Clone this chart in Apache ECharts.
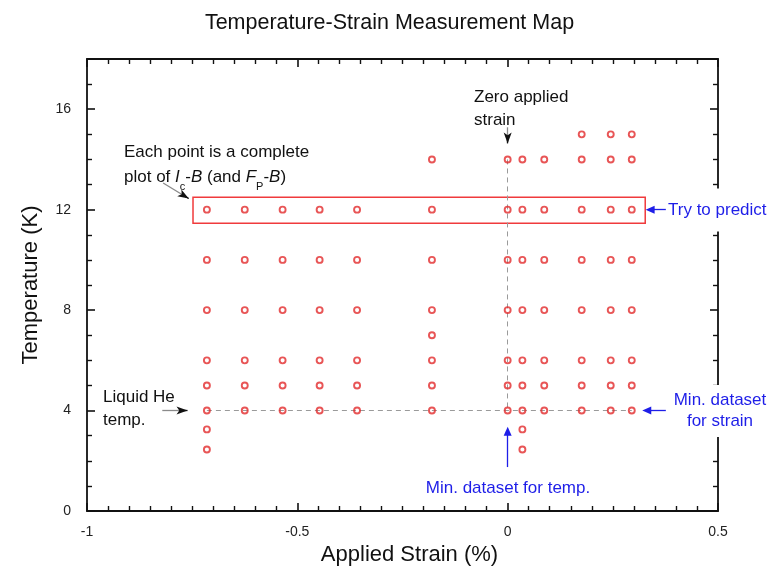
<!DOCTYPE html>
<html>
<head>
<meta charset="utf-8">
<script src="https://cdn.jsdelivr.net/npm/echarts@6.0.0/dist/echarts.min.js"></script>
<style>
  html, body { margin: 0; padding: 0; background: #fff; }
  #chart { width: 779px; height: 568px; }
</style>
</head>
<body>
<div id="chart"></div>
<script>
// Applied strain (%) of each measurement column
const strainValues = [-0.715, -0.625, -0.535, -0.447, -0.358, -0.18, 0, 0.035, 0.087, 0.176, 0.245, 0.295];
// Temperatures (K) measured in each strain column
const temperatureSets = [
  [12, 10, 8, 6, 5, 4, 3.25, 2.45],
  [12, 10, 8, 6, 5, 4],
  [12, 10, 8, 6, 5, 4],
  [12, 10, 8, 6, 5, 4],
  [12, 10, 8, 6, 5, 4],
  [14, 12, 10, 8, 7, 6, 5, 4],
  [14, 12, 10, 8, 6, 5, 4],
  [14, 12, 10, 8, 6, 5, 4, 3.25, 2.45],
  [14, 12, 10, 8, 6, 5, 4],
  [15, 14, 12, 10, 8, 6, 5, 4],
  [15, 14, 12, 10, 8, 6, 5, 4],
  [15, 14, 12, 10, 8, 6, 5, 4]
];
// Axis tick labels
const strainTicks = [-1, -0.5, 0, 0.5];
const temperatureTicks = [0, 4, 8, 12, 16];

// Reference levels
const liquidHeTemp = 4;          // K
const zeroStrain = 0;            // %
const zeroStrainTopTemp = 14;    // K, top of the zero-strain guide
// Prediction band (strain range and temperature range)
const predictStrain = [-0.748, 0.327];
const predictTemp = [11.46, 12.49];

const FONT = '"Liberation Sans", Arial, Helvetica, sans-serif';
const RED = '#e22a2c';
const BLUE = '#1e1ee8';
const INK = '#111';

// Flatten the columns into [strain, temperature] points
const points = [];
strainValues.forEach((s, i) => {
  temperatureSets[i].forEach(t => points.push([s, t]));
});

const frameLine = { show: true, onZero: false, lineStyle: { color: INK, width: 1.8 } };
const tick = { show: true, inside: true, length: 8, lineStyle: { color: INK, width: 1.6 } };
const minor = (n) => ({ show: true, splitNumber: n, length: 5, lineStyle: { color: INK, width: 1.4 } });

const xBase = { type: 'value', min: strainTicks[0], max: strainTicks[strainTicks.length - 1], interval: 0.5,
  axisLine: frameLine, axisTick: tick, minorTick: minor(10), splitLine: { show: false }, minorSplitLine: { show: false } };
const yBase = { type: 'value', min: temperatureTicks[0], max: 18, interval: 4,
  axisLine: frameLine, axisTick: tick, minorTick: minor(4), splitLine: { show: false }, minorSplitLine: { show: false } };

const chart = echarts.init(document.getElementById('chart'), null, { renderer: 'canvas' });

chart.setOption({
  animation: false,
  backgroundColor: '#fff',
  title: {
    text: 'Temperature-Strain Measurement Map',
    left: 'center', top: 12, padding: 0,
    textStyle: { fontFamily: FONT, fontSize: 21.5, fontWeight: 'normal', color: INK }
  },
  grid: { left: 87, right: 61, top: 59, bottom: 57, containLabel: false, outerBoundsMode: 'none' },
  xAxis: [
    Object.assign({}, xBase, {
      position: 'bottom',
      name: 'Applied Strain (%)', nameLocation: 'middle', nameGap: 25,
      nameTextStyle: { fontFamily: FONT, fontSize: 22, color: INK, verticalAlign: 'top', padding: [0, 0, 0, 14] },
      axisLabel: { margin: 14, fontFamily: FONT, fontSize: 14, color: '#222',
        formatter: v => strainTicks.includes(v) ? String(v) : '' }
    }),
    Object.assign({}, xBase, { position: 'top', axisLabel: { show: false } })
  ],
  yAxis: [
    Object.assign({}, yBase, {
      position: 'left',
      name: 'Temperature (K)', nameLocation: 'middle', nameGap: 45, nameRotate: 90,
      nameTextStyle: { fontFamily: FONT, fontSize: 22, color: INK },
      axisLabel: { margin: 16, showMaxLabel: false, fontFamily: FONT, fontSize: 14, color: '#222',
        formatter: v => temperatureTicks.includes(v) ? String(v) : '' }
    }),
    Object.assign({}, yBase, { position: 'right', axisLabel: { show: false } })
  ],
  series: [{
    type: 'scatter',
    xAxisIndex: 0, yAxisIndex: 0,
    data: points,
    symbol: 'circle',
    symbolSize: 6,
    itemStyle: { color: 'rgba(255,255,255,0)', borderColor: RED, borderWidth: 1.9 },
    emphasis: { disabled: true },
    silent: true,
    z: 5
  }]
});

// Arrow annotations, in data coordinates (tip = end point)
const arrows = [
  { from: [zeroStrain, 15.28], to: [zeroStrain, 14.42], line: '#8a8a8a', head: INK, shape: 'arrow', size: [6, 11] },
  { from: [-0.819, 13.06], to: [-0.747, 12.33], line: '#8a8a8a', head: INK, shape: 'arrow', size: [6, 11] },
  { from: [-0.821, liquidHeTemp], to: [-0.748, liquidHeTemp], line: '#8a8a8a', head: INK, shape: 'arrow', size: [6, 11] },
  { from: [0.376, 12], to: [0.328, 12], line: BLUE, head: BLUE, shape: 'triangle', size: [8, 9] },
  { from: [0.376, liquidHeTemp], to: [0.32, liquidHeTemp], line: BLUE, head: BLUE, shape: 'triangle', size: [8, 9] },
  { from: [zeroStrain, 1.75], to: [zeroStrain, 3.36], line: BLUE, head: BLUE, shape: 'triangle', size: [8, 9] }
];

const toPx = p => chart.convertToPixel({ gridIndex: 0 }, p);
const fromPx = p => chart.convertFromPixel({ gridIndex: 0 }, p);

const lineItems = [];
// Dashed guides
lineItems.push([
  { coord: [strainValues[0], liquidHeTemp], symbol: 'none', lineStyle: { color: '#9a9a9a', width: 1, type: [5, 4] } },
  { coord: [strainValues[strainValues.length - 1], liquidHeTemp], symbol: 'none' }
]);
lineItems.push([
  { coord: [zeroStrain, zeroStrainTopTemp], symbol: 'none', lineStyle: { color: '#9a9a9a', width: 1, type: [5, 4] } },
  { coord: [zeroStrain, liquidHeTemp], symbol: 'none' }
]);

arrows.forEach(a => {
  const p0 = toPx(a.from), p1 = toPx(a.to);
  const dx = p1[0] - p0[0], dy = p1[1] - p0[1];
  const len = Math.hypot(dx, dy);
  const ux = dx / len, uy = dy / len;
  const h = a.size[1];
  const back = d => fromPx([p1[0] - ux * d, p1[1] - uy * d]);
  // shaft
  lineItems.push([
    { coord: a.from, symbol: 'none', lineStyle: { color: a.line, width: 1.3, type: 'solid' } },
    { coord: back(h * 0.6), symbol: 'none' }
  ]);
  // head, centred half a head-length behind the tip
  lineItems.push([
    { coord: back(h), symbol: 'none', lineStyle: { color: a.head, width: 1.3, type: 'solid' } },
    { coord: back(h / 2), symbol: a.shape, symbolSize: a.size }
  ]);
});

const textStyle = (extra) => Object.assign({ fontFamily: FONT, fontSize: 17, fill: INK, align: 'left', textAlign: 'left', verticalAlign: 'middle', textVerticalAlign: 'middle' }, extra);

chart.setOption({
  series: [{
    markLine: {
      silent: true, animation: false, symbol: ['none', 'none'],
      label: { show: false }, emphasis: { disabled: true },
      data: lineItems
    },
    markArea: {
      silent: true, animation: false,
      label: { show: false }, emphasis: { disabled: true },
      itemStyle: { color: 'rgba(0,0,0,0)', borderColor: '#f03a3c', borderWidth: 1.5 },
      data: [[{ coord: [predictStrain[0], predictTemp[1]] }, { coord: [predictStrain[1], predictTemp[0]] }]]
    }
  }],
  graphic: [
    { type: 'text', z: 100, x: 474, y: 97, style: textStyle({ text: 'Zero applied' }) },
    { type: 'text', z: 100, x: 474, y: 120, style: textStyle({ text: 'strain' }) },
    { type: 'text', z: 100, x: 124, y: 152, style: textStyle({ text: 'Each point is a complete' }) },
    { type: 'text', z: 100, x: 124, y: 177, style: textStyle({
        text: '{n|plot of }{i|I}{s|c}{n|-}{i|B}{n| (and }{i|F}{s|P}{n|-}{i|B}{n|)}',
        rich: {
          n: { fontFamily: FONT, fontSize: 17, lineHeight: 30, verticalAlign: 'middle', fill: INK },
          i: { fontFamily: FONT, fontSize: 17, fontStyle: 'italic', lineHeight: 30, verticalAlign: 'middle', fill: INK },
          s: { fontFamily: FONT, fontSize: 11, lineHeight: 30, verticalAlign: 'bottom', fill: INK }
        }
      }) },
    { type: 'text', z: 100, x: 103, y: 397, style: textStyle({ text: 'Liquid He' }) },
    { type: 'text', z: 100, x: 103, y: 420, style: textStyle({ text: 'temp.' }) },
    { type: 'text', z: 100, x: 666, y: 210, style: textStyle({
        text: 'Try to predict', fill: BLUE, backgroundColor: '#fff', padding: [13, 4, 13, 2] }) },
    { type: 'text', z: 100, x: 720, y: 411, style: textStyle({
        text: 'Min. dataset\nfor strain', fill: BLUE, align: 'center', textAlign: 'center',
        lineHeight: 21, backgroundColor: '#fff', padding: [5, 2, 5, 2] }) },
    { type: 'text', z: 100, x: 508, y: 488, style: textStyle({ text: 'Min. dataset for temp.', fill: BLUE, align: 'center', textAlign: 'center' }) }
  ]
});
</script>
</body>
</html>
